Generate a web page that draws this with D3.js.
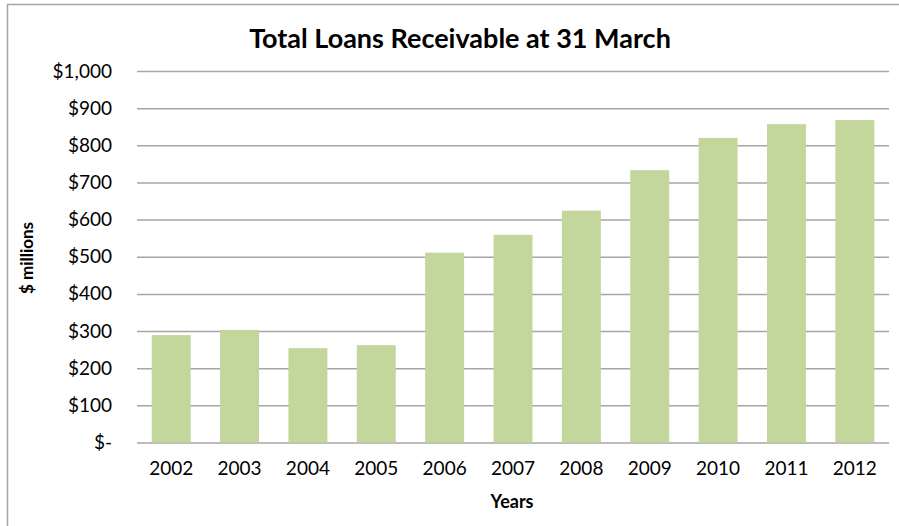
<!DOCTYPE html>
<html>
<head>
<meta charset="utf-8">
<script src="https://cdn.jsdelivr.net/npm/d3@7"></script>
<style>
  html, body { margin: 0; padding: 0; background: #fff; }
  svg { display: block; }
  text { font-family: Lato, "Open Sans", sans-serif; fill: #000; }
</style>
</head>
<body>
<svg id="chart" width="899" height="526"></svg>
<script>
// Total loans receivable at 31 March, $ millions
const years = ["2002", "2003", "2004", "2005", "2006", "2007", "2008", "2009", "2010", "2011", "2012"];
const loans = [289, 303, 254, 262, 511, 559, 624, 733, 820, 857, 868];
const yTicks = [0, 100, 200, 300, 400, 500, 600, 700, 800, 900, 1000];

const svg = d3.select("#chart");
const W = 899, H = 526;
const plot = { left: 137, right: 889, top: 71, bottom: 442.5 };

// outer chart frame
svg.append("rect")
  .attr("x", 7.5).attr("y", 4.5)
  .attr("width", W + 10).attr("height", H + 10)
  .attr("fill", "#fff")
  .attr("stroke", "#a6a6a6").attr("stroke-width", 1.5);

const x = d3.scaleBand()
  .domain(years)
  .range([plot.left, plot.right])
  .paddingInner(0.43)
  .paddingOuter(0.215);

const y = d3.scaleLinear()
  .domain([0, 1000])
  .range([plot.bottom, plot.top]);

const fmt = v => v === 0 ? "$-" : "$" + d3.format(",")(v);

// horizontal gridlines and y labels
const yAxis = d3.axisLeft(y)
  .tickValues(yTicks)
  .tickSize(-(plot.right - plot.left))
  .tickPadding(25)
  .tickFormat(fmt);

const gy = svg.append("g")
  .attr("transform", `translate(${plot.left},0)`)
  .call(yAxis);
gy.select(".domain").remove();
gy.selectAll(".tick line")
  .attr("stroke", "#a6a6a6").attr("stroke-width", 1.5);
gy.selectAll(".tick text")
  .attr("font-size", 19)
  .attr("fill", "#000")
  .style("font-family", "Lato, sans-serif");

// bars
svg.append("g")
  .selectAll("rect")
  .data(years.map((yr, i) => ({ yr, v: loans[i] })))
  .join("rect")
  .attr("x", d => x(d.yr))
  .attr("y", d => y(d.v))
  .attr("width", x.bandwidth())
  .attr("height", d => y(0) - y(d.v))
  .attr("fill", "#c3d69b");

// x axis labels
const xAxis = d3.axisBottom(x).tickSize(0).tickPadding(19);
const gx = svg.append("g")
  .attr("transform", `translate(0,${plot.bottom})`)
  .call(xAxis);
gx.select(".domain").remove();
gx.selectAll(".tick text")
  .attr("font-size", 19)
  .attr("fill", "#000")
  .style("font-family", "Lato, sans-serif");

// title
svg.append("text")
  .attr("x", 460).attr("y", 48)
  .attr("text-anchor", "middle")
  .attr("font-size", 27)
  .attr("font-weight", "bold")
  .text("Total Loans Receivable at 31 March");

// axis titles
svg.append("text")
  .attr("x", 512).attr("y", 508)
  .attr("text-anchor", "middle")
  .attr("font-size", 18)
  .attr("font-weight", "bold")
  .text("Years");

svg.append("text")
  .attr("transform", "translate(33,258) rotate(-90)")
  .attr("text-anchor", "middle")
  .attr("font-size", 17)
  .attr("font-weight", "bold")
  .text("$ millions");
</script>
</body>
</html>
